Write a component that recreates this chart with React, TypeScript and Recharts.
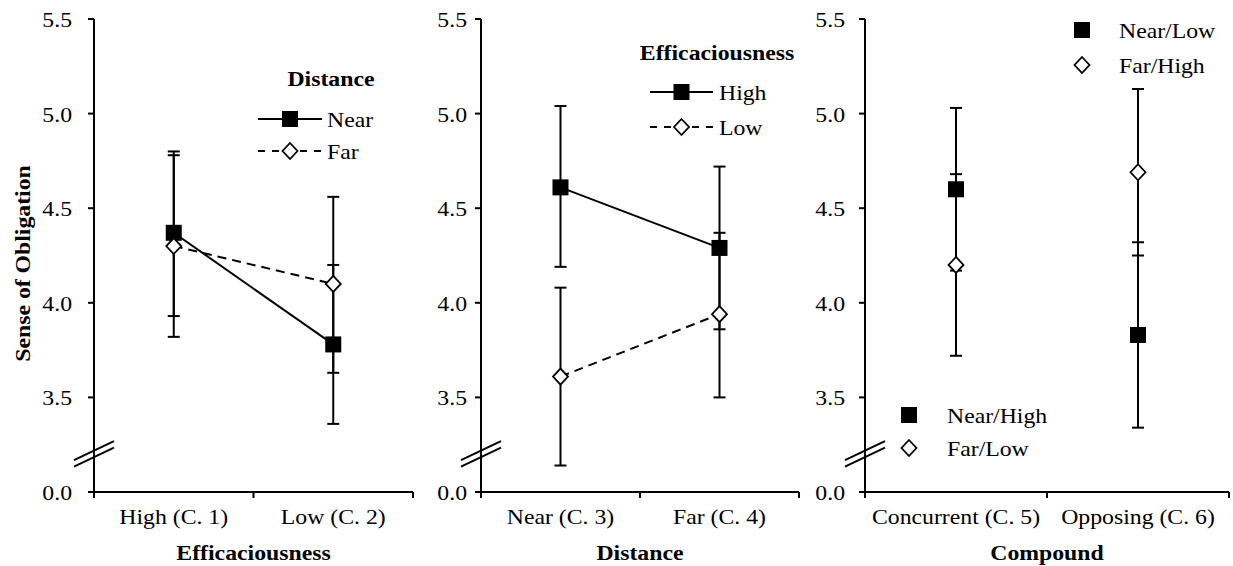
import React from 'react'
import {
  LineChart,
  Line,
  XAxis,
  YAxis,
  ErrorBar,
  ReferenceDot,
  Legend,
  Label,
} from 'recharts'

const FONT = '"Liberation Serif", "Times New Roman", serif'
const H = 566
const STRETCH = 1.08 // the source figure's lettering is a little wider than Times

// shared y axis: the 3.0 position is drawn as the broken-axis "0.0"
const yTicks = [3, 3.5, 4, 4.5, 5, 5.5]
const yTickLabels = ['0.0', '3.5', '4.0', '4.5', '5.0', '5.5']
const BREAK_AT = 3.2

// panel 1: efficaciousness x distance
const efficacyCats = ['High (C. 1)', 'Low (C. 2)']
const nearMean = [4.37, 3.78]
const nearLo = [3.93, 3.36]
const nearHi = [4.8, 4.2]
const farMean = [4.3, 4.1]
const farLo = [3.82, 3.63]
const farHi = [4.78, 4.56]

// panel 2: distance x efficaciousness
const distanceCats = ['Near (C. 3)', 'Far (C. 4)']
const highMean = [4.61, 4.29]
const highLo = [4.19, 3.86]
const highHi = [5.04, 4.72]
const lowMean = [3.61, 3.94]
const lowLo = [3.14, 3.5]
const lowHi = [4.08, 4.37]

// panel 3: compound (squares = Near/High, Near/Low; diamonds = Far/Low, Far/High)
const compoundCats = ['Concurrent (C. 5)', 'Opposing (C. 6)']
const squareMean = [4.6, 3.83]
const squareLo = [4.17, 3.34]
const squareHi = [5.03, 4.32]
const diamondMean = [4.2, 4.69]
const diamondLo = [3.72, 4.25]
const diamondHi = [4.68, 5.13]

interface Row {
  x: number
  a: number
  aErr: [number, number]
  b: number
  bErr: [number, number]
}

function buildRows(
  aMean: number[],
  aLo: number[],
  aHi: number[],
  bMean: number[],
  bLo: number[],
  bHi: number[]
): Row[] {
  return aMean.map((m, i) => ({
    x: i + 0.5,
    a: m,
    aErr: [m - aLo[i], aHi[i] - m],
    b: bMean[i],
    bErr: [bMean[i] - bLo[i], bHi[i] - bMean[i]],
  }))
}

// text with a slight horizontal stretch, anchored at (x, y)
function SText({
  x,
  y,
  anchor = 'start',
  bold = false,
  size = 22,
  rotate = 0,
  children,
}: {
  x: number
  y: number
  anchor?: 'start' | 'middle' | 'end'
  bold?: boolean
  size?: number
  rotate?: number
  children: React.ReactNode
}) {
  return (
    <text
      transform={`translate(${x},${y}) rotate(${rotate}) scale(${STRETCH},1)`}
      dy="0.36em"
      textAnchor={anchor}
      fontFamily={FONT}
      fontWeight={bold ? 'bold' : 'normal'}
      fontSize={size}
      fill="#000"
    >
      {children}
    </text>
  )
}

function Square({ cx, cy, s = 8 }: { cx: number; cy: number; s?: number }) {
  return <rect x={cx - s} y={cy - s} width={s * 2} height={s * 2} fill="#000" />
}

function Diamond({ cx, cy }: { cx: number; cy: number }) {
  return (
    <path
      d={`M${cx},${cy - 8}L${cx + 7.5},${cy}L${cx},${cy + 8}L${cx - 7.5},${cy}Z`}
      fill="#fff"
      stroke="#000"
      strokeWidth={1.8}
    />
  )
}

const squareDot = (p: any) => <Square key={`s${p.index}`} cx={p.cx} cy={p.cy} />
const diamondDot = (p: any) => <Diamond key={`d${p.index}`} cx={p.cx} cy={p.cy} />

function BreakMark(p: any) {
  const { cx, cy } = p
  return (
    <g stroke="#000" strokeWidth={2}>
      <line x1={cx - 20} y1={cy + 6} x2={cx + 20} y2={cy - 13} />
      <line x1={cx - 20} y1={cy + 12.5} x2={cx + 20} y2={cy - 6.5} />
    </g>
  )
}

function CatTick(props: any) {
  const { x, y, payload, cats } = props
  const v = payload.value as number
  if (Number.isInteger(v)) {
    return <line x1={x} y1={y} x2={x} y2={y + 6} stroke="#000" strokeWidth={2} />
  }
  return (
    <SText x={x} y={y + 24} anchor="middle">
      {cats[Math.floor(v)]}
    </SText>
  )
}

function ValueTick(props: any) {
  const { x, y, payload } = props
  return (
    <SText x={x} y={y} anchor="end">
      {yTickLabels[yTicks.indexOf(payload.value)]}
    </SText>
  )
}

interface LineItem {
  name: string
  marker: 'square' | 'diamond'
  dashed: boolean
}

function LineLegend({
  title,
  titleX,
  titleY,
  x1,
  x2,
  textX,
  rows,
  items,
}: {
  title: string
  titleX: number
  titleY: number
  x1: number
  x2: number
  textX: number
  rows: number[]
  items: LineItem[]
}) {
  const mid = (x1 + x2) / 2
  return (
    <g>
      <SText x={titleX} y={titleY} anchor="middle" bold>
        {title}
      </SText>
      {items.map((it, i) => (
        <g key={it.name}>
          <line
            x1={x1}
            y1={rows[i]}
            x2={x2}
            y2={rows[i]}
            stroke="#000"
            strokeWidth={2}
            strokeDasharray={it.dashed ? '7 7' : undefined}
          />
          {it.marker === 'square' ? <Square cx={mid} cy={rows[i]} /> : <Diamond cx={mid} cy={rows[i]} />}
          <SText x={textX} y={rows[i]}>
            {it.name}
          </SText>
        </g>
      ))}
    </g>
  )
}

function MarkerLegend({
  markerX,
  textX,
  rows,
  items,
}: {
  markerX: number
  textX: number
  rows: number[]
  items: { name: string; marker: 'square' | 'diamond' }[]
}) {
  return (
    <g>
      {items.map((it, i) => (
        <g key={it.name}>
          {it.marker === 'square' ? (
            <Square cx={markerX} cy={rows[i]} />
          ) : (
            <Diamond cx={markerX} cy={rows[i]} />
          )}
          <SText x={textX} y={rows[i]}>
            {it.name}
          </SText>
        </g>
      ))}
    </g>
  )
}

interface PanelProps {
  left: number
  width: number
  right: number
  yAxisWidth: number
  tickMargin: number
  cats: string[]
  title: string
  rows: Row[]
  connect: boolean
  yLabel?: string
  legend: React.ReactNode
}

function Panel({
  left,
  width,
  right,
  yAxisWidth,
  tickMargin,
  cats,
  title,
  rows,
  connect,
  yLabel,
  legend,
}: PanelProps) {
  return (
    <div style={{ position: 'absolute', left, top: 0 }}>
      <LineChart width={width} height={H} data={rows} margin={{ top: 19, right, bottom: 0, left: 0 }}>
        <XAxis
          type="number"
          dataKey="x"
          domain={[0, 2]}
          ticks={[0, 0.5, 1, 1.5, 2]}
          interval={0}
          height={74}
          tickSize={0}
          tickMargin={0}
          tickLine={false}
          axisLine={{ stroke: '#000', strokeWidth: 2 }}
          tick={<CatTick cats={cats} />}
        >
          <Label
            content={(p: any) => {
              const vb = p.viewBox
              return (
                <SText x={vb.x + vb.width / 2} y={vb.y + 60} anchor="middle" bold>
                  {title}
                </SText>
              )
            }}
          />
        </XAxis>
        <YAxis
          type="number"
          domain={[3, 5.5]}
          ticks={yTicks}
          interval={0}
          width={yAxisWidth}
          tickSize={6}
          tickMargin={tickMargin}
          axisLine={{ stroke: '#000', strokeWidth: 2 }}
          tickLine={{ stroke: '#000', strokeWidth: 2 }}
          tick={<ValueTick />}
        >
          {yLabel && (
            <Label
              content={(p: any) => {
                const vb = p.viewBox
                return (
                  <SText x={22} y={vb.y + vb.height / 2 + 8} anchor="middle" bold rotate={-90}>
                    {yLabel}
                  </SText>
                )
              }}
            />
          )}
        </YAxis>
        <ReferenceDot x={0} y={BREAK_AT} ifOverflow="visible" shape={BreakMark} />
        <Line
          dataKey="a"
          stroke={connect ? '#000' : 'none'}
          strokeWidth={2}
          dot={squareDot}
          activeDot={false}
          isAnimationActive={false}
        >
          <ErrorBar dataKey="aErr" width={6} stroke="#000" strokeWidth={2} isAnimationActive={false} />
        </Line>
        <Line
          dataKey="b"
          stroke={connect ? '#000' : 'none'}
          strokeWidth={2}
          strokeDasharray="9 6"
          dot={diamondDot}
          activeDot={false}
          isAnimationActive={false}
        >
          <ErrorBar dataKey="bErr" width={6} stroke="#000" strokeWidth={2} isAnimationActive={false} />
        </Line>
        <Legend
          layout="vertical"
          align="center"
          verticalAlign="middle"
          wrapperStyle={{ left: 0, top: 0, width, height: H, pointerEvents: 'none' }}
          content={() => (
            <svg width={width} height={H} style={{ display: 'block', overflow: 'visible' }}>
              {legend}
            </svg>
          )}
        />
      </LineChart>
    </div>
  )
}

export default function App() {
  const rows1 = buildRows(nearMean, nearLo, nearHi, farMean, farLo, farHi)
  const rows2 = buildRows(highMean, highLo, highHi, lowMean, lowLo, lowHi)
  const rows3 = buildRows(squareMean, squareLo, squareHi, diamondMean, diamondLo, diamondHi)

  return (
    <div style={{ position: 'absolute', left: 0, top: 0, width: 1233, height: H, background: '#fff' }}>
      <Panel
        left={0}
        width={420}
        right={7}
        yAxisWidth={94}
        tickMargin={16}
        cats={efficacyCats}
        title="Efficaciousness"
        rows={rows1}
        connect
        yLabel="Sense of Obligation"
        legend={
          <LineLegend
            title="Distance"
            titleX={331}
            titleY={78}
            x1={258}
            x2={322}
            textX={327}
            rows={[119, 151]}
            items={[
              { name: 'Near', marker: 'square', dashed: false },
              { name: 'Far', marker: 'diamond', dashed: true },
            ]}
          />
        }
      />
      <Panel
        left={415}
        width={391}
        right={7}
        yAxisWidth={66}
        tickMargin={8}
        cats={distanceCats}
        title="Distance"
        rows={rows2}
        connect
        legend={
          <LineLegend
            title="Efficaciousness"
            titleX={302}
            titleY={52}
            x1={235}
            x2={298}
            textX={304}
            rows={[92, 127]}
            items={[
              { name: 'High', marker: 'square', dashed: false },
              { name: 'Low', marker: 'diamond', dashed: true },
            ]}
          />
        }
      />
      <Panel
        left={800}
        width={433}
        right={4}
        yAxisWidth={65}
        tickMargin={14}
        cats={compoundCats}
        title="Compound"
        rows={rows3}
        connect={false}
        legend={
          <g>
            <MarkerLegend
              markerX={282}
              textX={319}
              rows={[30, 65]}
              items={[
                { name: 'Near/Low', marker: 'square' },
                { name: 'Far/High', marker: 'diamond' },
              ]}
            />
            <MarkerLegend
              markerX={109}
              textX={147}
              rows={[415, 448]}
              items={[
                { name: 'Near/High', marker: 'square' },
                { name: 'Far/Low', marker: 'diamond' },
              ]}
            />
          </g>
        }
      />
    </div>
  )
}
